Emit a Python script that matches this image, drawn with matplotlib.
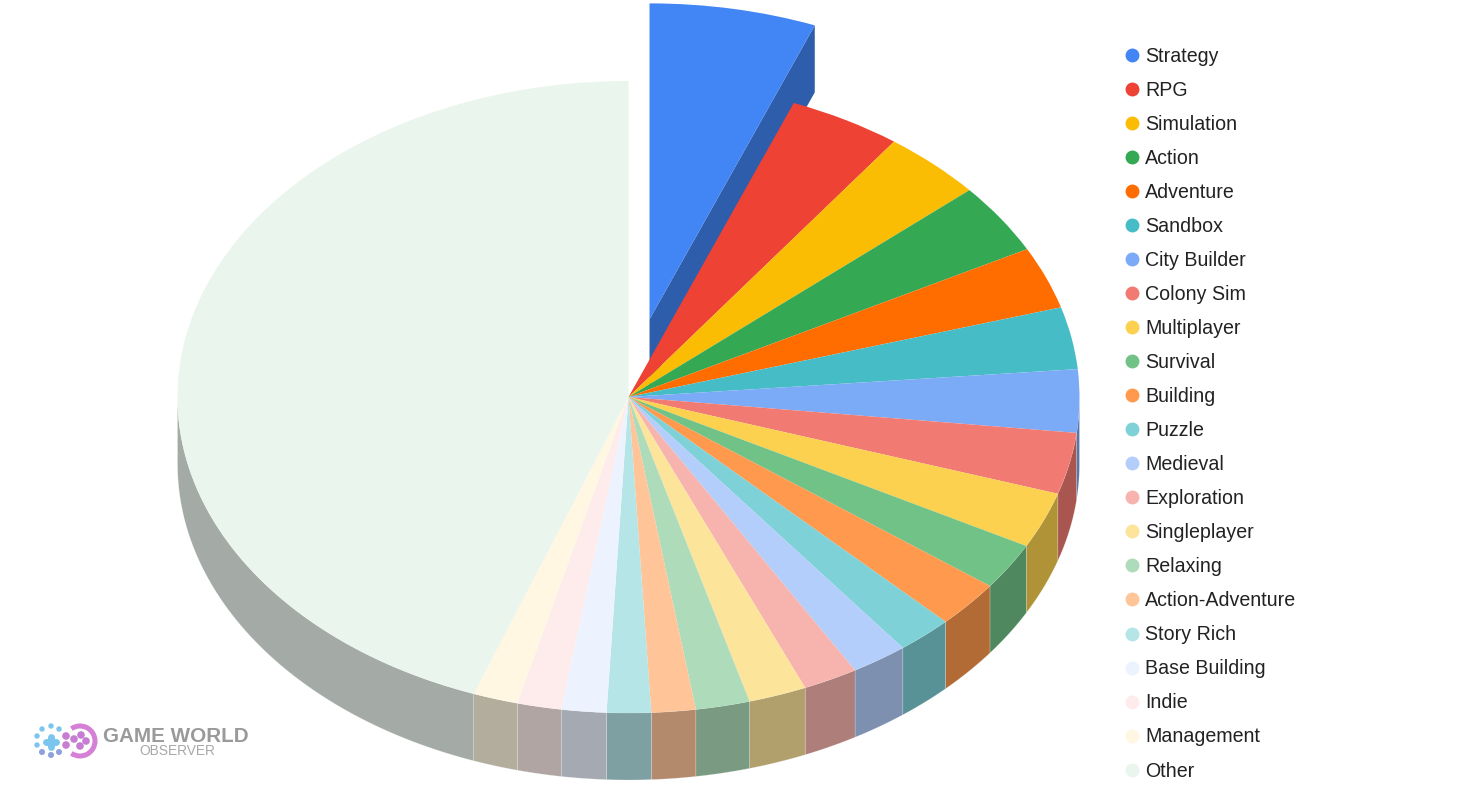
import numpy as np
import matplotlib
matplotlib.use("Agg")
import matplotlib.pyplot as plt
from matplotlib.lines import Line2D
from matplotlib.patches import Circle, Arc
from matplotlib.transforms import Affine2D

plt.rcParams['font.family'] = ['Liberation Sans', 'DejaVu Sans']

categories = ["Strategy", "RPG", "Simulation", "Action", "Adventure", "Sandbox",
              "City Builder", "Colony Sim", "Multiplayer", "Survival", "Building",
              "Puzzle", "Medieval", "Exploration", "Singleplayer", "Relaxing",
              "Action-Adventure", "Story Rich", "Base Building", "Indie",
              "Management", "Other"]
values = [5.97, 4.05, 3.62, 3.61, 3.17, 3.17, 3.22, 3.14, 2.86, 2.39, 2.39,
          2.00, 2.03, 1.97, 2.08, 1.94, 1.58, 1.58, 1.61, 1.58, 1.61, 44.42]
colors = ["#4285F4", "#EE4235", "#FBBC04", "#34A853", "#FF6D01", "#46BDC6",
          "#7BAAF7", "#F17B72", "#FCD14F", "#71C287", "#FF994D", "#7ED1D7",
          "#B3CEFB", "#F7B4AE", "#FDE49B", "#AEDCBA", "#FFC599", "#B5E5E7",
          "#ECF3FE", "#FDECEB", "#FFF7E1", "#EAF5EE"]
explode = [0.25] + [0] * 21

W, H = 1460, 794
CX, CY, RX, RY, DEPTH = 628.5, 397, 451, 316, 67


def darker(c, f=0.7):
    r, g, b = matplotlib.colors.to_rgb(c)
    return (r * f, g * f, b * f)


fig = plt.figure(figsize=(W / 100, H / 100), dpi=100, facecolor="white")
ax = fig.add_axes([0, 0, 1, 1])
px = Affine2D().scale(1 / W, -1 / H).translate(0, 1) + fig.transFigure

d = DEPTH / RY
edges = np.cumsum([0] + values) / sum(values) * 360.0

# extruded side walls
mid0 = np.radians((edges[0] + edges[1]) / 2)
ox, oy = explode[0] * np.sin(mid0), explode[0] * np.cos(mid0)
t1 = np.radians(edges[1])
ex, ey = ox + np.sin(t1), oy + np.cos(t1)
ax.fill([ox, ex, ex, ox], [oy, ey, ey - d, oy - d], color=darker(colors[0]), lw=0, zorder=1)
for i, c in enumerate(colors):
    a, b = max(edges[i], 90), min(edges[i + 1], 270)
    if b <= a:
        continue
    t = np.radians(np.linspace(a, b, 80))
    xs, ys = np.sin(t), np.cos(t)
    ax.fill(np.r_[xs, xs[::-1]], np.r_[ys, ys[::-1] - d], color=darker(c),
            lw=0.4, ec=(1, 1, 1, 0.35), zorder=1)

wedges, _ = ax.pie(values, colors=colors, explode=explode, startangle=90,
                   counterclock=False, radius=1, wedgeprops=dict(lw=0, zorder=2))
for w in wedges:
    w.set_zorder(2)

ax.set_aspect("auto")
ax.set_xlim(-CX / RX, (W - CX) / RX)
ax.set_ylim(-(H - CY) / RY, CY / RY)
ax.axis("off")

handles = [Line2D([], [], ls="none", marker="o", ms=9, mfc=c, mec=c) for c in colors]
ax.legend(handles, categories, loc="upper left", bbox_to_anchor=(1123 / W, 1 - 46.7 / H),
          bbox_transform=fig.transFigure, frameon=False, fontsize=14.1,
          labelcolor="#222222", labelspacing=0.768, handlelength=0.92,
          handletextpad=0.225, borderpad=0, borderaxespad=0)

# watermark
ax.add_patch(Arc((80, 741), 30, 30, theta1=-125, theta2=125, color="#D57FD6", lw=3.6,
                 transform=px, zorder=3))
for x, y in [(66, 736), (66, 745), (74, 739), (81, 735), (86, 741), (80, 746)]:
    ax.add_patch(Circle((x, y), 3.1, color="#C77DD2", transform=px, zorder=3))
for x, y in [(42, 729), (51, 726), (59, 729), (37, 736), (37, 745)]:
    ax.add_patch(Circle((x, y), 2.0, color="#7CC5EE", transform=px, zorder=3))
for x, y in [(42, 752), (51, 755), (59, 752)]:
    ax.add_patch(Circle((x, y), 2.3, color="#8FA0DC", transform=px, zorder=3))
ax.plot([46, 56], [742, 742], color="#7CC5EE", lw=5, solid_capstyle="round", transform=px, zorder=3)
ax.plot([51, 51], [737, 747], color="#7CC5EE", lw=5, solid_capstyle="round", transform=px, zorder=3)
ax.text(103, 737, "GAME WORLD", transform=px, fontsize=14.9, fontweight="bold", color="#9A9A9A",
        ha="left", va="center", zorder=3)
ax.text(139, 751, "OBSERVER", transform=px, fontsize=9.9, color="#A8A8A8",
        ha="left", va="center", zorder=3)

fig.savefig("out.png", dpi=100, facecolor="white")
